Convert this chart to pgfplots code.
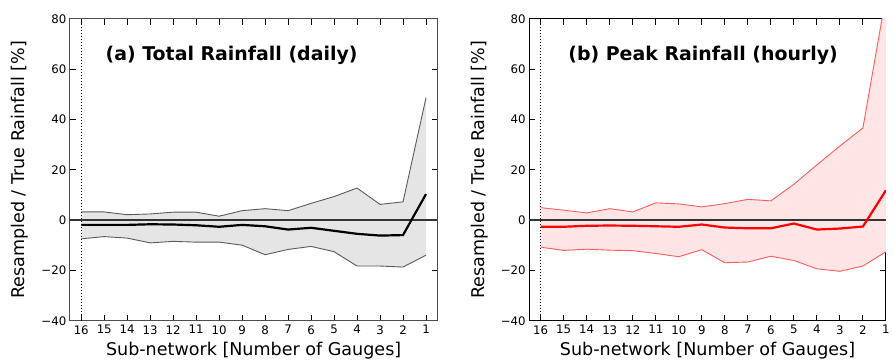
\documentclass[border=0pt]{standalone}
\usepackage{fontspec}
\setmainfont{DejaVu Sans}
\usepackage{pgfplots}
\pgfplotsset{compat=1.18}
\usepgfplotslibrary{fillbetween}
\definecolor{grayfill}{RGB}{229,229,229}
\definecolor{grayline}{RGB}{90,90,90}
\definecolor{redfill}{RGB}{255,229,229}
\definecolor{redline}{RGB}{255,90,90}
\pgfplotsset{
  common/.style={
    anchor=south west,
    scale only axis,
    height=303pt,
    x dir=reverse,
    ymin=-40, ymax=80,
    ytick={-40,-20,0,20,40,60,80},
    yticklabels={−40,−20,0,20,40,60,80},
    xtick={1,...,16},
    xticklabels={1,2,3,4,5,6,7,8,9,10,11,12,13,14,15,16},
    tick align=inside,
    major tick length=6pt,
    tick style={line width=1pt, black},
    tick label style={font=\fontsize{11.8}{12}\selectfont},
    xticklabel style={yshift=-1pt},
    label style={font=\fontsize{17.6}{19}\selectfont},
    xlabel={Sub-network [Number of Gauges]},
    ylabel={Resampled / True Rainfall [\%]},
    xlabel style={yshift=-1pt},
    ylabel style={yshift=6pt},
    clip=true,
  }
}
\begin{document}
\begin{tikzpicture}
\path (0,0) rectangle (893pt,365pt);
% ---------- (a) ----------
\begin{axis}[common,
  at={(70pt,43pt)}, width=369pt,
  xmin=0.5, xmax=16.5,
  axis line style={black!70, line width=1pt}]
\addplot[name path=upA, draw=none, forget plot] coordinates {
(16,3.3)(15,3.3)(14,2.2)(13,2.5)(12,3.2)(11,3.2)(10,1.6)(9,3.8)(8,4.6)(7,3.8)(6,6.7)(5,9.4)(4,12.8)(3,6.3)(2,7.3)(1,48.7)};
\addplot[name path=loA, draw=none, forget plot] coordinates {
(16,-7.4)(15,-6.5)(14,-7.1)(13,-9.0)(12,-8.4)(11,-8.7)(10,-8.7)(9,-9.9)(8,-13.7)(7,-11.6)(6,-10.4)(5,-12.5)(4,-18.2)(3,-18.2)(2,-18.6)(1,-13.9)};
\addplot[grayfill, draw=none] fill between[of=upA and loA];
\addplot[black!80, line width=1.5pt] coordinates {(0.5,0)(16.5,0)};
\addplot[black, dotted, line width=1pt] coordinates {(16,-40)(16,80)};
\addplot[grayline, line width=0.9pt] coordinates {
(16,3.3)(15,3.3)(14,2.2)(13,2.5)(12,3.2)(11,3.2)(10,1.6)(9,3.8)(8,4.6)(7,3.8)(6,6.7)(5,9.4)(4,12.8)(3,6.3)(2,7.3)(1,48.7)};
\addplot[grayline, line width=0.9pt] coordinates {
(16,-7.4)(15,-6.5)(14,-7.1)(13,-9.0)(12,-8.4)(11,-8.7)(10,-8.7)(9,-9.9)(8,-13.7)(7,-11.6)(6,-10.4)(5,-12.5)(4,-18.2)(3,-18.2)(2,-18.6)(1,-13.9)};
\addplot[black, line width=2.2pt] coordinates {
(16,-1.85)(15,-1.85)(14,-1.85)(13,-1.6)(12,-1.7)(11,-2.0)(10,-2.6)(9,-1.85)(8,-2.4)(7,-3.7)(6,-3.0)(5,-4.2)(4,-5.4)(3,-6.1)(2,-5.9)(1,10.4)};
\node[anchor=west, font=\fontsize{19}{21}\bfseries] at (axis description cs:0.088,0.878) {(a) Total Rainfall (daily)};
\end{axis}
% ---------- (b) ----------
\begin{axis}[common,
  at={(531pt,43pt)}, width=358pt,
  xmin=1, xmax=16.5,
  axis line style={black, line width=1pt}]
\addplot[name path=upB, draw=none, forget plot] coordinates {
(16,5.0)(15,4.0)(14,2.9)(13,4.6)(12,3.3)(11,6.9)(10,6.5)(9,5.3)(8,6.6)(7,8.3)(6,7.7)(5,14.3)(4,22.0)(3,29.5)(2,36.7)(1,89.0)};
\addplot[name path=loB, draw=none, forget plot] coordinates {
(16,-10.7)(15,-12.0)(14,-11.5)(13,-11.9)(12,-12.1)(11,-13.2)(10,-14.5)(9,-11.7)(8,-16.9)(7,-16.6)(6,-14.3)(5,-16.0)(4,-19.3)(3,-20.3)(2,-18.2)(1,-12.5)};
\addplot[redfill, draw=none] fill between[of=upB and loB];
\addplot[black!80, line width=1.5pt] coordinates {(1,0)(16.5,0)};
\addplot[black, dotted, line width=1pt] coordinates {(16,-40)(16,80)};
\addplot[redline, line width=0.9pt] coordinates {
(16,5.0)(15,4.0)(14,2.9)(13,4.6)(12,3.3)(11,6.9)(10,6.5)(9,5.3)(8,6.6)(7,8.3)(6,7.7)(5,14.3)(4,22.0)(3,29.5)(2,36.7)(1,89.0)};
\addplot[redline, line width=0.9pt] coordinates {
(16,-10.7)(15,-12.0)(14,-11.5)(13,-11.9)(12,-12.1)(11,-13.2)(10,-14.5)(9,-11.7)(8,-16.9)(7,-16.6)(6,-14.3)(5,-16.0)(4,-19.3)(3,-20.3)(2,-18.2)(1,-12.5)};
\addplot[red, line width=2.2pt] coordinates {
(16,-2.6)(15,-2.6)(14,-2.2)(13,-2.1)(12,-2.2)(11,-2.4)(10,-2.6)(9,-1.7)(8,-2.9)(7,-3.2)(6,-3.2)(5,-1.3)(4,-3.7)(3,-3.3)(2,-2.5)(1,11.9)};
\node[anchor=west, font=\fontsize{19}{21}\bfseries] at (axis description cs:0.10,0.878) {(b) Peak Rainfall (hourly)};
\end{axis}
\end{tikzpicture}
\end{document}
